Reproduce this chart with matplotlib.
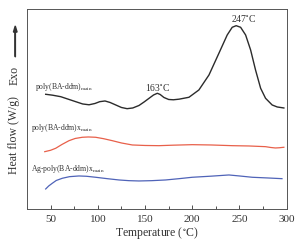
import numpy as np
import matplotlib
matplotlib.use('Agg')
import matplotlib.pyplot as plt
from matplotlib.ticker import MultipleLocator

# values (heat flow in arbitrary units)
t_main = [44.8, 52, 60.7, 68, 76.6, 84, 90.7, 97, 102, 107.6, 113, 119, 125, 131, 137,
          143.6, 149, 154, 159, 163, 166, 170, 175, 180, 186, 196.5, 207, 217.7, 228.2,
          237, 242.3, 246.5, 251.2, 256.5, 261.8, 267, 272.4, 277.6, 284.6, 290, 297]
hf_main = [114.7, 113.8, 112.3, 110, 107.3, 105, 104.2, 105.5, 107.3, 108, 106.5, 104,
           101.5, 100.3, 101, 103.5, 107, 110.5, 114, 115.7, 114.5, 111.5, 109.5, 109.2,
           109.8, 111.7, 119, 134, 155.7, 174, 181.7, 183.3, 181.7, 174, 159, 139, 120.7,
           110.7, 104, 102, 101]

t_x = [43.8, 50, 55.4, 62, 69.5, 76, 83.6, 90, 97.7, 106, 115.3, 125, 136.5, 150, 164.7,
       180, 200, 220, 242.3, 260, 277.6, 283, 288, 292, 297]
hf_x = [57.3, 58.7, 60.7, 64.5, 68.3, 70.5, 71.7, 72, 71.7, 70.3, 68.3, 66, 64, 63.5, 63.3,
        63.8, 64.3, 64, 63.3, 63, 62.3, 61.5, 61, 61.2, 61.7]

t_ag = [44.8, 48, 51.8, 56, 62.4, 70, 80, 88, 97.7, 110, 122.4, 133, 143.6, 157, 171.8,
        186, 200, 220, 238.8, 250, 263.5, 280, 295]
hf_ag = [20, 23, 25.7, 28.5, 30.7, 32.3, 33, 32.7, 31.7, 30.3, 29, 28.3, 28, 28.3, 29,
         30.3, 31.7, 32.8, 34, 33, 31.7, 31, 30.3]

labels = ['poly(BA-ddm)$_{\\rm main}$', 'poly(BA-ddm)x$_{\\rm main}$',
          'Ag-poly(BA-ddm)x$_{\\rm main}$']
peaks = [163, 247]

plt.rcParams['font.family'] = ['Liberation Serif', 'DejaVu Serif']
plt.rcParams['mathtext.fontset'] = 'stix'

fig = plt.figure(figsize=(3.05, 2.47), dpi=100)
ax = fig.add_axes([0.0885, 0.154, 0.8515, 0.8096])

ax.plot(t_main, hf_main, color='#2b2b2b', lw=1.0)
ax.plot(t_x, hf_x, color='#e8604a', lw=0.9)
ax.plot(t_ag, hf_ag, color='#4f63b8', lw=0.9)

ax.set_xlim(25, 300)
ax.set_ylim(0, 200)
ax.set_yticks([])
ax.xaxis.set_major_locator(MultipleLocator(50))
ax.xaxis.set_minor_locator(MultipleLocator(25))
ax.tick_params(axis='x', which='major', direction='in', length=3, width=0.6,
               labelsize=8, pad=4, colors='#333333')
ax.tick_params(axis='x', which='minor', direction='in', length=2, width=0.6, colors='#333333')
for s in ax.spines.values():
    s.set_color('#555555')
    s.set_linewidth(0.7)

ax.set_xlabel('Temperature ($^{\\circ}$C)', fontsize=8.5, labelpad=1, color='#333333')

ax.text(33, 120, labels[0], fontsize=5.5, color='#333333')
ax.text(29, 79, labels[1], fontsize=5.5, color='#333333')
ax.text(29, 38, labels[2], fontsize=5.5, color='#333333')
ax.text(peaks[0], 117, '%d$^{\\circ}$C' % peaks[0], fontsize=7, ha='center', color='#333333')
ax.text(peaks[1] - 6, 186, '%d$^{\\circ}$C' % peaks[1], fontsize=7, color='#333333')

fig.text(0.047, 0.455, 'Heat flow (W/g)', rotation=90, fontsize=8.5, ha='center', va='center',
         color='#333333')
fig.text(0.047, 0.695, 'Exo', rotation=90, fontsize=8.5, ha='center', va='center', color='#333333')
fig.patches.append(matplotlib.patches.FancyArrow(0.05, 0.77, 0, 0.1, width=0.001,
                                                 head_width=0.012, head_length=0.025,
                                                 color='#333333', transform=fig.transFigure))

fig.savefig('out.png', dpi=100)
